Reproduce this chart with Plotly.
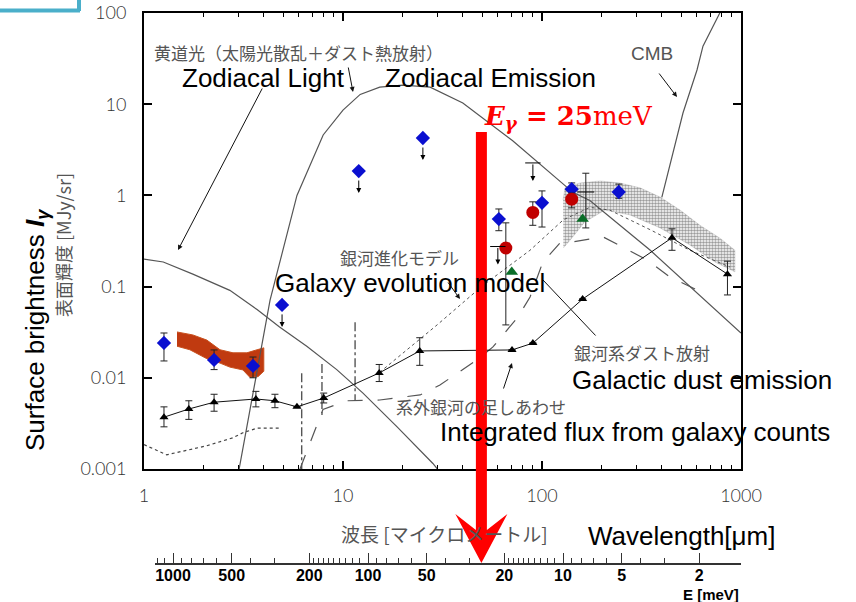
import numpy as np
import plotly.graph_objects as go

# ---------------- data ----------------
# Zodiacal light: scattered sunlight
zl_wl = [1.0, 1.25, 1.76, 2.7, 3.7, 4.8, 6.6, 9.3, 12.6, 18.7, 28.3, 31.0]
zl_I = [0.20, 0.186, 0.137, 0.091, 0.056, 0.036, 0.022, 0.0123, 0.0068, 0.0029, 0.00115, 0.0009]
# Zodiacal emission: thermal dust
ze_wl = [2.98, 4.3, 5.87, 7.95, 10.0, 12.2, 15.3, 20.0, 27.4, 40.0, 71.0, 143.0, 174.0, 350.0, 1000.0]
ze_I = [0.0009, 0.071, 1.0, 4.6, 8.6, 12.8, 15.4, 16.2, 15.4, 10.3, 4.0, 1.08, 0.88, 0.25, 0.031]
# CMB
cmb_wl = [400.0, 455.0, 511.0, 601.0, 644.0, 800.0]
cmb_I = [0.95, 2.92, 8.0, 23.7, 43.3, 110.0]
# Integrated flux from galaxy counts (black triangles)
gc_wl = [1.26, 1.68, 2.25, 3.65, 4.55, 5.87, 8.0, 15.2, 24.3, 70.7, 90.0, 160.0, 450.0, 855.0]
gc_I = [0.0037, 0.00455, 0.0054, 0.00586, 0.0056, 0.0048, 0.006, 0.0113, 0.0197, 0.0202, 0.024, 0.073, 0.343, 0.137]
gc_hi = [0.0048, 0.0056, 0.0066, 0.0071, 0.0066, 0.0048, 0.0068, 0.0140, 0.0275, 0.0202, 0.024, 0.073, 0.43, 0.19]
gc_lo = [0.0029, 0.0035, 0.0043, 0.0048, 0.0047, 0.0048, 0.0053, 0.0091, 0.0137, 0.0202, 0.024, 0.073, 0.25, 0.081]
# Blue diamonds with error bars
bd_wl = [1.26, 2.25, 3.53, 60.7, 100.0, 141.0, 243.0]
bd_I = [0.0241, 0.0157, 0.0135, 0.55, 0.83, 1.17, 1.09]
bd_hi = [0.031, 0.0202, 0.0169, 0.71, 1.12, 1.37, 1.33]
bd_lo = [0.0153, 0.0123, 0.0100, 0.41, 0.45, 1.0, 0.93]
# Blue diamonds, upper limits
bdul_wl = [4.94, 12.0, 25.2]
bdul_I = [0.063, 1.85, 4.26]
# Red circles
rc_wl = [65.8, 89.9, 141.0]
rc_I = [0.265, 0.65, 0.91]
rc_hi = [0.50, 0.85, 1.06]
rc_lo = [0.038, 0.47, 0.73]
# Green triangles
gt_wl = [70.5, 160.0]
gt_I = [0.145, 0.55]
# Black cross with error bar
bx_wl = [166.0]
bx_I = [1.09]
bx_hi = [1.75]
bx_lo = [0.44]
# Bare upper limits (bar + arrow)
ul_wl = [60.0, 90.0]
ul_I = [0.275, 2.27]
# Near-IR band (orange)
nb_wl = [1.465, 1.76, 2.07, 2.41, 2.80, 3.29, 3.70, 4.0, 4.0, 3.74, 3.41, 3.14, 2.70, 2.41, 2.07, 1.70, 1.465]
nb_I = [0.0318, 0.0295, 0.0259, 0.0203, 0.0188, 0.0188, 0.0203, 0.0213,
        0.0118, 0.0103, 0.0101, 0.0122, 0.0131, 0.0145, 0.0162, 0.0203, 0.0222]
# Far-IR band (grey stipple)
fb_wl = [127.5, 130.5, 155, 196, 246, 311, 392, 494, 622, 784, 933,
         933, 740, 554, 392, 277, 207, 164, 138, 128]
fb_I = [0.89, 1.21, 1.37, 1.44, 1.37, 1.21, 0.96, 0.69, 0.47, 0.34, 0.25,
        0.145, 0.186, 0.286, 0.44, 0.61, 0.69, 0.51, 0.32, 0.265]
# lower dotted curve
ld_wl = [1.0, 1.3, 2.07, 2.8, 3.14, 3.7, 4.9]
ld_I = [0.00185, 0.00143, 0.0018, 0.0022, 0.0025, 0.0028, 0.0028]
# galaxy evolution model (dotted)
ge_wl = [15.3, 29.7, 50.5, 71.5, 87.0, 128.0, 174.0, 219.0, 350.0, 554.0, 880.0]
ge_I = [0.0115, 0.038, 0.103, 0.18, 0.25, 0.54, 0.74, 0.69, 0.42, 0.25, 0.164]
# long dashed model
dm_wl = [6.08, 7.93, 10.5, 15.3, 24.4, 30.7, 47.1, 56.7, 75.7, 87.1, 101, 123, 143, 203, 255, 337, 440, 601]
dm_I = [0.001, 0.0045, 0.0056, 0.00571, 0.00649, 0.00834, 0.0157, 0.0218, 0.0465, 0.0769,
        0.186, 0.30, 0.31, 0.35, 0.27, 0.196, 0.127, 0.092]
# short vertical dash-dot drops
vd_wl = [6.2, 7.84, 11.5]
vd_top = [0.0112, 0.0142, 0.0406]
vd_bot = [0.001, 0.0039, 0.0057]

x_ticks = [1, 10, 100, 1000]
y_ticks = [0.001, 0.01, 0.1, 1, 10, 100]
y_ticklabels = ["0.001", "0.01", "0.1", "1", "10", "100"]
e_ticks = [1000, 500, 200, 100, 50, 20, 10, 5, 2]
e_minor = [1200, 1100, 900, 800, 700, 600, 400, 300] + list(range(190, 100, -10)) + \
          [90, 80, 70, 60, 40, 30] + list(range(19, 10, -1)) + [9, 8, 7, 6, 4, 3]
E_ARROW = 25.0          # meV
HC = 1239.84            # meV * um

# ---------------- layout geometry ----------------
W, H = 856, 602
ML, MR, MT, MB = 144, 115, 13, 39
PW = W - ML - MR
PH = H - MT - MB
PLOT_BOTTOM = 469
Y_DOM0 = (H - MB - PLOT_BOTTOM) / PH
DEC = PH * (1 - Y_DOM0) / 5.0   # pixels per decade on y


def px(x):
    return (x - ML) / PW


def py(y):
    return (H - MB - y) / PH


GREY = "#555555"
SANS = "Liberation Sans"
JP = "Noto Sans CJK JP"

fig = go.Figure()

# far-IR stipple band
fig.add_trace(go.Scatter(x=fb_wl, y=fb_I, mode="lines", fill="toself",
                         line=dict(color="rgba(120,120,120,0.4)", width=0.5),
                         fillcolor="rgba(200,200,200,0.45)",
                         fillpattern=dict(shape=".", fgcolor="#3a3a3a", bgcolor="rgba(0,0,0,0)",
                                          size=3, solidity=0.55),
                         hoverinfo="skip"))
# near-IR band
fig.add_trace(go.Scatter(x=nb_wl, y=nb_I, mode="lines", fill="toself",
                         line=dict(color="#c8501e", width=1), fillcolor="#c03a10",
                         hoverinfo="skip"))

# curves
fig.add_trace(go.Scatter(x=zl_wl, y=zl_I, mode="lines", line=dict(color=GREY, width=1.2)))
fig.add_trace(go.Scatter(x=ze_wl, y=ze_I, mode="lines", line=dict(color=GREY, width=1.2)))
fig.add_trace(go.Scatter(x=cmb_wl, y=cmb_I, mode="lines", line=dict(color=GREY, width=1.2)))
fig.add_trace(go.Scatter(x=ld_wl, y=ld_I, mode="lines", line=dict(color="#444", width=1.2, dash="dot")))
fig.add_trace(go.Scatter(x=ge_wl, y=ge_I, mode="lines", line=dict(color="#555", width=1.0, dash="dot")))
fig.add_trace(go.Scatter(x=dm_wl, y=dm_I, mode="lines", line=dict(color="#555", width=1.2, dash="longdash")))
for w, t, b in zip(vd_wl, vd_top, vd_bot):
    fig.add_trace(go.Scatter(x=[w, w], y=[t, b], mode="lines",
                             line=dict(color="#555", width=1.4, dash="dashdot")))

# galaxy counts line with triangles
fig.add_trace(go.Scatter(
    x=gc_wl, y=gc_I, mode="lines+markers",
    line=dict(color="#111", width=1),
    marker=dict(symbol="triangle-up", size=8, color="black"),
    error_y=dict(type="data", symmetric=False,
                 array=[h - v for h, v in zip(gc_hi, gc_I)],
                 arrayminus=[v - l for v, l in zip(gc_I, gc_lo)],
                 color="#222", thickness=1, width=3.5)))

# blue diamonds
fig.add_trace(go.Scatter(
    x=bd_wl, y=bd_I, mode="markers",
    marker=dict(symbol="diamond", size=11, color="#0a0fd0"),
    error_y=dict(type="data", symmetric=False,
                 array=[h - v for h, v in zip(bd_hi, bd_I)],
                 arrayminus=[v - l for v, l in zip(bd_I, bd_lo)],
                 color="#222", thickness=1, width=3.5)))
fig.add_trace(go.Scatter(x=bdul_wl, y=bdul_I, mode="markers",
                         marker=dict(symbol="diamond", size=11, color="#0a0fd0")))
# red circles
fig.add_trace(go.Scatter(
    x=rc_wl, y=rc_I, mode="markers",
    marker=dict(symbol="circle", size=13, color="#c00000"),
    error_y=dict(type="data", symmetric=False,
                 array=[h - v for h, v in zip(rc_hi, rc_I)],
                 arrayminus=[v - l for v, l in zip(rc_I, rc_lo)],
                 color="#222", thickness=1, width=3.5)))
# black cross
fig.add_trace(go.Scatter(
    x=bx_wl, y=bx_I, mode="markers",
    marker=dict(symbol="line-ew-open", size=12, color="black", line=dict(color="black", width=1)),
    error_y=dict(type="data", symmetric=False,
                 array=[h - v for h, v in zip(bx_hi, bx_I)],
                 arrayminus=[v - l for v, l in zip(bx_I, bx_lo)],
                 color="#222", thickness=1, width=3.5)))
# green triangles
fig.add_trace(go.Scatter(x=gt_wl, y=gt_I, mode="markers",
                         marker=dict(symbol="triangle-up", size=11, color="#0a6e28")))
# bare upper limit bars
fig.add_trace(go.Scatter(x=ul_wl, y=ul_I, mode="markers",
                         marker=dict(symbol="line-ew-open", size=11, color="black",
                                     line=dict(color="black", width=1))))

# dummy trace for energy axis
fig.add_trace(go.Scatter(x=[], y=[], xaxis="x2", yaxis="y2", mode="markers"))

annotations = []
# upper-limit arrows
for w, v in zip(bdul_wl, bdul_I):
    annotations.append(dict(x=np.log10(w), y=np.log10(v) - 22 / DEC, xref="x", yref="y",
                            ax=0, ay=-14, axref="pixel", ayref="pixel", text="", showarrow=True,
                            arrowhead=2, arrowsize=1, arrowwidth=1, arrowcolor="black"))
for w, v in zip(ul_wl, ul_I):
    annotations.append(dict(x=np.log10(w), y=np.log10(v) - 18 / DEC, xref="x", yref="y",
                            ax=0, ay=-18, text="", showarrow=True,
                            arrowhead=2, arrowsize=1, arrowwidth=1, arrowcolor="black"))

# pointer arrows (head px, tail px, head style)
pointers = [((178, 250), (263, 87), 2), ((353, 92), (348, 66), 2), ((677, 97), (658, 72), 2),
            ((460, 299), (447, 281), 2), ((543, 280), (597, 337), 0), ((512, 363), (503, 390), 2)]
for (hx, hy), (tx, ty), hd in pointers:
    annotations.append(dict(x=px(hx), y=py(hy), xref="paper", yref="paper",
                            ax=tx - hx, ay=ty - hy, text="", showarrow=True,
                            arrowhead=hd, arrowsize=1, arrowwidth=1, arrowcolor="#111"))


def label(text, x, y, size, color, family, xanchor="left", **kw):
    annotations.append(dict(text=text, x=px(x), y=py(y), xref="paper", yref="paper",
                            xanchor=xanchor, yanchor="middle", showarrow=False,
                            font=dict(size=size, color=color, family=family), **kw))


label("黄道光（太陽光散乱＋ダスト熱放射）", 152, 52, 17, GREY, JP)
label("Zodiacal Light", 180, 78, 26, "black", SANS)
label("Zodiacal Emission", 383, 78, 26, "black", SANS)
label("CMB", 629, 53, 19, GREY, SANS)
label("<b><i>E</i><sub><i>γ</i></sub> = 25</b>meV", 482, 117, 26, "#ff0000", "DejaVu Serif")
label("銀河進化モデル", 338, 257, 17, GREY, JP)
label("Galaxy evolution model", 273, 283, 26, "black", SANS)
label("銀河系ダスト放射", 572, 352, 17, GREY, JP)
label("Galactic dust emission", 570, 380, 26, "black", SANS)
label("系外銀河の足しあわせ", 394, 406, 17, GREY, JP)
label("Integrated flux from galaxy counts", 438, 432, 26, "black", SANS)
label("波長 [マイクロメートル]", 444, 533, 19, GREY, JP, xanchor="center")
label("Wavelength[μm]", 681, 536, 26, "black", SANS, xanchor="center")
label("<b>E [meV]</b>", 741, 594, 15, "black", SANS, xanchor="right")
label("Surface brightness <b><i>I</i></b><sub><b><i>γ</i></b></sub>", 36, 330, 26, "black", SANS,
      xanchor="center", textangle=-90)
label("表面輝度 [MJy/sr]", 63, 245, 18, GREY, JP, xanchor="center", textangle=-90)

# red arrow (E = 25 meV)
lam = HC / E_ARROW
xc = np.log10(lam) / 3.0
sh = 5.5 / PW
hw = 26 / PW
y_top, y_base, y_notch, y_tip = py(132), py(514), py(530), py(563)
path = (f"M {xc - hw},{y_base} L {xc - sh},{y_notch} L {xc - sh},{y_top} L {xc + sh},{y_top} "
        f"L {xc + sh},{y_notch} L {xc + hw},{y_base} L {xc},{y_tip} Z")
shapes = [dict(type="path", path=path, xref="paper", yref="paper", fillcolor="#ff0000",
               line=dict(width=0), layer="above"),
          dict(type="line", xref="paper", yref="paper", x0=px(0), x1=px(80), y0=py(10.5), y1=py(10.5),
               line=dict(color="#4aafca", width=4)),
          dict(type="line", xref="paper", yref="paper", x0=px(79), x1=px(79), y0=py(0), y1=py(11),
               line=dict(color="#4aafca", width=4))]

tickfont = dict(family="Lato", size=18, color="#333333", weight=300)
fig.update_layout(
    width=W, height=H, margin=dict(l=ML, r=MR, t=MT, b=MB, autoexpand=False),
    paper_bgcolor="white", plot_bgcolor="rgba(0,0,0,0)", showlegend=False,
    xaxis=dict(type="log", range=[0, 3], domain=[0, 1], anchor="y", automargin=False,
               showline=True, linecolor="black", linewidth=2, mirror="allticks",
               ticks="inside", ticklen=8, tickwidth=1.5, tickcolor="black",
               tickvals=x_ticks, ticktext=[str(v) for v in x_ticks], tickfont=tickfont,
               ticklabelstandoff=9, showgrid=False, zeroline=False,
               minor=dict(ticks="inside", ticklen=4, tickwidth=1, tickcolor="black",
                          tickmode="array",
                          tickvals=[m * d for d in (1, 10, 100) for m in range(2, 10)], showgrid=False)),
    yaxis=dict(type="log", range=[-3, 2], domain=[Y_DOM0, 1], anchor="x", automargin=False,
               showline=True, linecolor="black", linewidth=2, mirror="allticks",
               ticks="inside", ticklen=8, tickwidth=1.5, tickcolor="black",
               tickvals=y_ticks, ticktext=y_ticklabels, tickfont=tickfont,
               ticklabelstandoff=12, showgrid=False, zeroline=False),
    xaxis2=dict(type="log", range=[3 + 18 / 195, 3 - 568 / 195], domain=[px(155), 1], anchor="y2",
                automargin=False,
                showline=True, linecolor="#333", linewidth=1.5,
                ticks="inside", ticklen=10, tickwidth=1, tickcolor="#333",
                tickvals=e_ticks, ticktext=[str(v) for v in e_ticks],
                tickfont=dict(family=SANS, size=16, color="black", weight="bold"),
                ticklabelstandoff=-3, showgrid=False, zeroline=False,
                minor=dict(ticks="inside", ticklen=5, tickwidth=1, tickcolor="#333",
                           tickmode="array", tickvals=e_minor, showgrid=False)),
    yaxis2=dict(domain=[0, 0.02], anchor="x2", visible=False, range=[0, 1], automargin=False),
    annotations=annotations, shapes=shapes,
)

fig.write_html("out.html")
